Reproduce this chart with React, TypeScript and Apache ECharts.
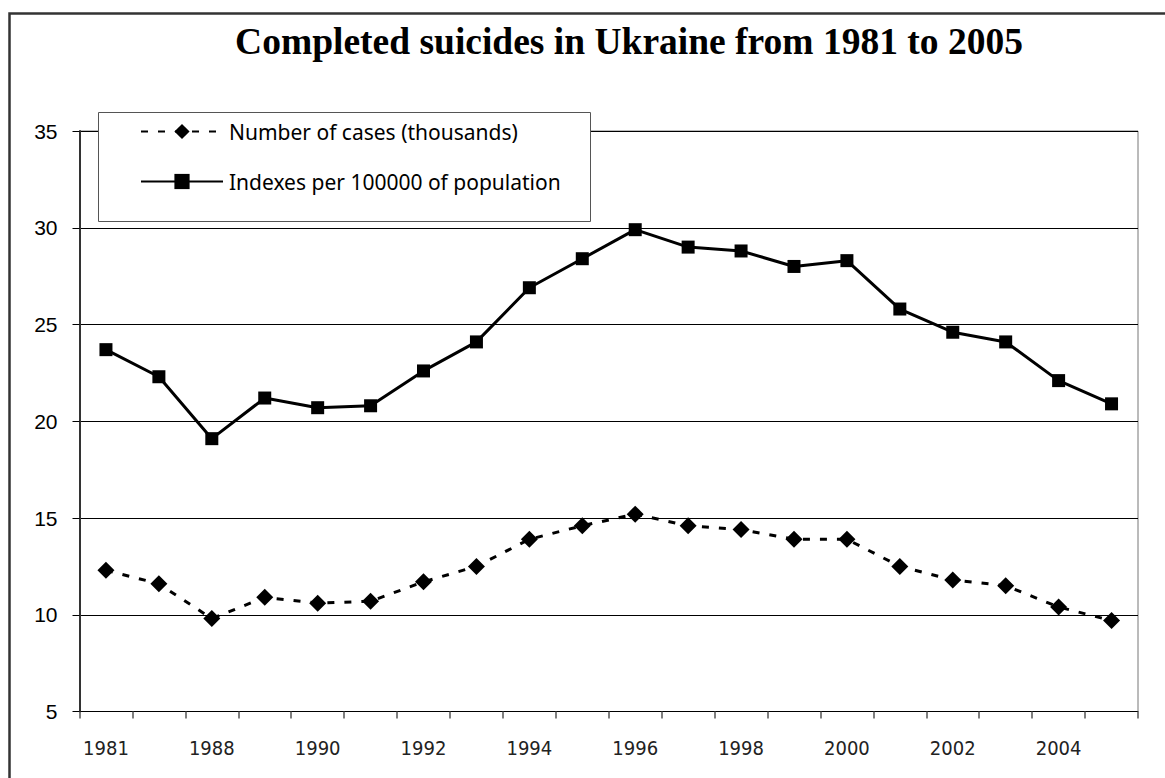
import React, { useEffect, useRef } from "react";
import * as echarts from "echarts";

// Years on the category axis (only every other one is labelled)
const years = [
  "1981", "1985", "1988", "1989", "1990", "1991", "1992", "1993", "1994", "1995",
  "1996", "1997", "1998", "1999", "2000", "2001", "2002", "2003", "2004", "2005",
];

// Number of completed suicides, thousands
const casesThousands = [
  12.3, 11.6, 9.8, 10.9, 10.6, 10.7, 11.7, 12.5, 13.9, 14.6,
  15.2, 14.6, 14.4, 13.9, 13.9, 12.5, 11.8, 11.5, 10.4, 9.7,
];

// Rate per 100 000 of population
const indexesPer100k = [
  23.7, 22.3, 19.1, 21.2, 20.7, 20.8, 22.6, 24.1, 26.9, 28.4,
  29.9, 29.0, 28.8, 28.0, 28.3, 25.8, 24.6, 24.1, 22.1, 20.9,
];

const seriesNames = ["Number of cases (thousands)", "Indexes per 100000 of population"];
const titleText = "Completed suicides in Ukraine from 1981 to 2005";

const yMin = 5;
const yMax = 35;
const yStep = 5;

const labelFont = "'Liberation Sans Narrow', 'DejaVu Sans Condensed', sans-serif";
const legendFont = "'Noto Sans', 'DejaVu Sans', sans-serif";

export default function App() {
  const ref = useRef<HTMLDivElement>(null);

  useEffect(() => {
    if (!ref.current) return;
    const chart = echarts.init(ref.current, undefined, { renderer: "svg" });
    chart.setOption({
      animation: false,
      backgroundColor: "#fff",
      title: {
        text: titleText,
        left: 624,
        top: 17,
        textAlign: "center",
        textStyle: {
          fontFamily: "'Liberation Serif', 'Times New Roman', serif",
          fontWeight: "bold",
          fontSize: 37.5,
          color: "#000",
        },
      },
      legend: {
        orient: "vertical",
        left: 140,
        top: 121,
        padding: 0,
        itemWidth: 82,
        itemHeight: 19,
        itemGap: 29,
        z: 5,
        data: seriesNames,
        textStyle: { fontFamily: legendFont, fontSize: 21, color: "#000", padding: [0, 0, 0, 1] },
      },
      graphic: [
        {
          type: "rect",
          left: 7,
          top: 11,
          z: 10,
          shape: { width: 1200, height: 800 },
          style: { fill: "none", stroke: "#333", lineWidth: 2.5 },
        },
        {
          type: "rect",
          left: 98,
          top: 112,
          z: 3,
          shape: { width: 492, height: 109 },
          style: { fill: "#fff", stroke: "#555", lineWidth: 1 },
        },
      ],
      grid: {
        left: 79.5,
        right: 27,
        top: 131,
        bottom: 66.5,
        show: true,
        borderColor: "#777",
        borderWidth: 1,
        backgroundColor: "transparent",
      },
      xAxis: {
        type: "category",
        data: years,
        boundaryGap: true,
        axisLine: { show: true, lineStyle: { color: "#000", width: 1 } },
        axisTick: { show: true, interval: 0, length: 7, lineStyle: { color: "#555", width: 1.5 } },
        axisLabel: {
          interval: 1,
          margin: 26,
          fontFamily: labelFont,
          fontSize: 20,
          color: "#222",
        },
        splitLine: { show: false },
      },
      yAxis: {
        type: "value",
        min: yMin,
        max: yMax,
        interval: yStep,
        axisLine: { show: true, lineStyle: { color: "#333", width: 2 } },
        axisTick: { show: true, length: 7, lineStyle: { color: "#000", width: 1 } },
        axisLabel: {
          margin: 22,
          fontFamily: "'Liberation Sans', Arial, sans-serif",
          fontSize: 21,
          color: "#000",
        },
        splitLine: { show: true, lineStyle: { color: "#000", width: 1 } },
      },
      series: [
        {
          name: seriesNames[0],
          type: "line",
          data: casesThousands,
          symbol: "diamond",
          symbolSize: 17,
          lineStyle: { color: "#000", width: 3, type: [7, 10] },
          itemStyle: { color: "#000" },
          z: 2,
        },
        {
          name: seriesNames[1],
          type: "line",
          data: indexesPer100k,
          symbol: "rect",
          symbolSize: 13,
          lineStyle: { color: "#000", width: 3, type: "solid" },
          itemStyle: { color: "#000" },
          z: 2,
        },
      ],
    });
    return () => chart.dispose();
  }, []);

  return (
    <div
      ref={ref}
      style={{ position: "fixed", left: 0, top: 0, width: 1165, height: 778, background: "#fff" }}
    />
  );
}
